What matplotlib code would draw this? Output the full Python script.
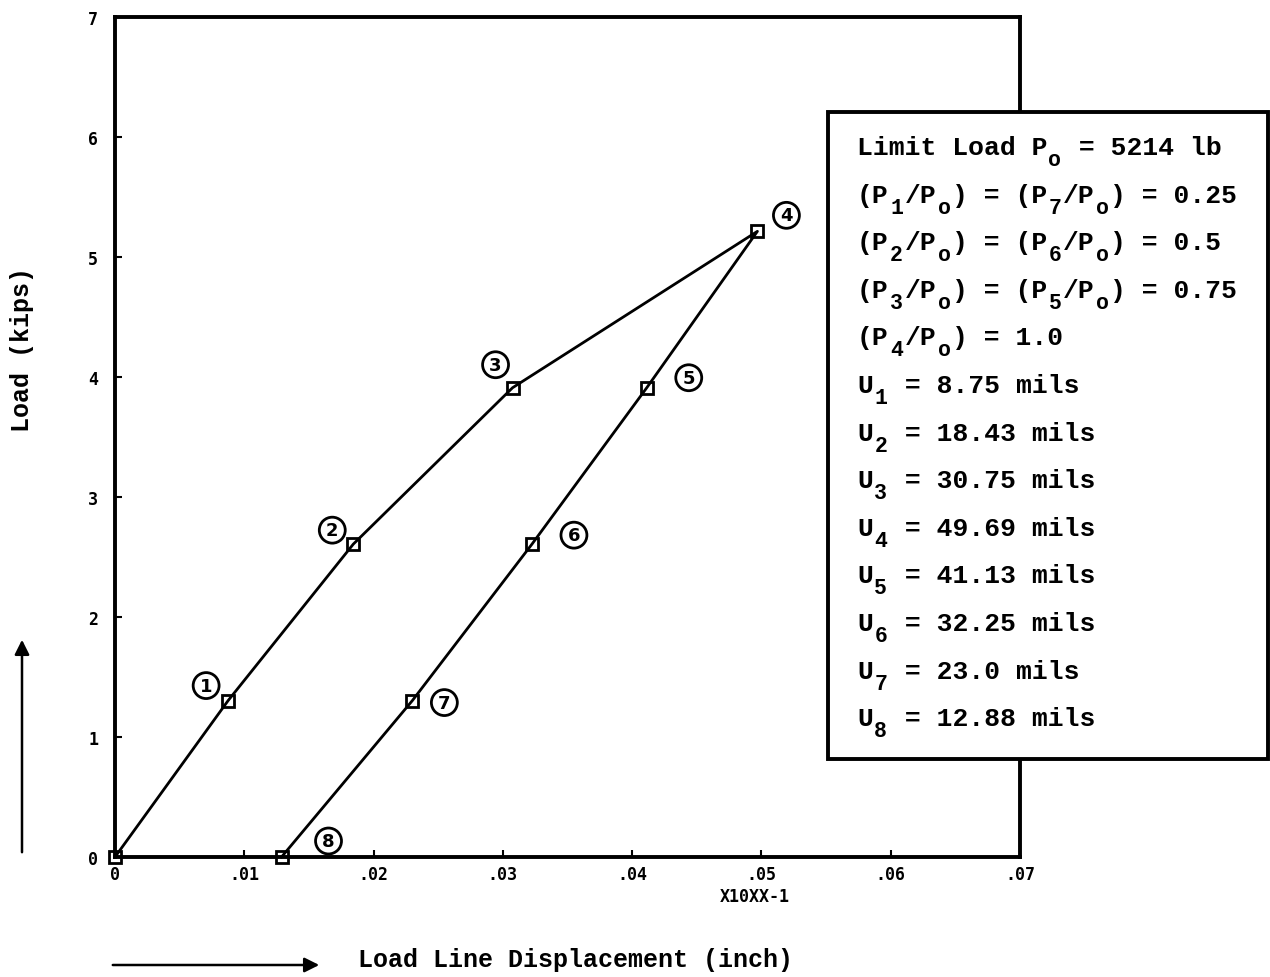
import numpy as np
import matplotlib.pyplot as plt
from matplotlib.patches import Rectangle, FancyArrowPatch

# limit load and load ratios for each step of the load/unload cycle
limit_load = 5214.0  # lb
load_ratio = [0.0, 0.25, 0.5, 0.75, 1.0, 0.75, 0.5, 0.25, 0.0]
# load line displacements in mils (U1..U8), origin first
disp_mils = [0.0, 8.75, 18.43, 30.75, 49.69, 41.13, 32.25, 23.0, 12.88]
point_ids = ['', '1', '2', '3', '4', '5', '6', '7', '8']
# where the circled step numbers sit relative to each point (pixels)
label_offsets = [(0, 0), (-22, 15), (-21, 14), (-17, 23), (29, 16),
                 (42, 10), (42, 9), (32, -2), (47, 16)]

x_ticks = [0, 0.01, 0.02, 0.03, 0.04, 0.05, 0.06, 0.07]
x_ticklabels = ['0', '.01', '.02', '.03', '.04', '.05', '.06', '.07']
y_ticks = [0, 1, 2, 3, 4, 5, 6, 7]

# "_x" marks a subscript character
box_lines = [
    'Limit Load P_o = 5214 lb',
    '(P_1/P_o) = (P_7/P_o) = 0.25',
    '(P_2/P_o) = (P_6/P_o) = 0.5',
    '(P_3/P_o) = (P_5/P_o) = 0.75',
    '(P_4/P_o) = 1.0',
    'U_1 = 8.75 mils',
    'U_2 = 18.43 mils',
    'U_3 = 30.75 mils',
    'U_4 = 49.69 mils',
    'U_5 = 41.13 mils',
    'U_6 = 32.25 mils',
    'U_7 = 23.0 mils',
    'U_8 = 12.88 mils',
]

W, H = 1270, 978
MONO = 'Liberation Mono'
fig = plt.figure(figsize=(W / 100, H / 100), dpi=100)
ax = fig.add_axes([115 / W, 1 - 858 / H, (1020 - 115) / W, (858 - 18) / H])

x = np.array(disp_mils) / 1000.0
y = np.array(load_ratio) * limit_load / 1000.0

ax.plot(x, y, color='black', lw=2.0, marker='s', ms=9, mfc='none',
        mec='black', mew=2.0, clip_on=False, zorder=3)

for xi, yi, pid, (dx, dy) in zip(x, y, point_ids, label_offsets):
    if not pid:
        continue
    ax.annotate(pid, (xi, yi), xytext=(dx * 0.72, dy * 0.72),
                textcoords='offset points', ha='center', va='center',
                fontsize=13, fontfamily='DejaVu Sans', fontweight='bold',
                bbox=dict(boxstyle='circle,pad=0.22', fc='white',
                          ec='black', lw=2.0))

ax.set_xlim(0, 0.07)
ax.set_ylim(0, 7)
ax.set_xticks(x_ticks)
ax.set_xticklabels(x_ticklabels)
ax.set_yticks(y_ticks)
ax.set_yticklabels([str(v) for v in y_ticks])
ax.tick_params(direction='in', length=5, width=1.5)
for lab in ax.get_xticklabels() + ax.get_yticklabels():
    lab.set_fontfamily('DejaVu Sans Mono')
    lab.set_fontweight('bold')
    lab.set_fontsize(12)
ax.tick_params(axis='x', pad=6)
ax.tick_params(axis='y', pad=12)
for side in ['left', 'bottom', 'top', 'right']:
    ax.spines[side].set_linewidth(2.8)

fig.text(755 / W, 1 - 897 / H, 'X10XX-1', ha='center', va='center',
         fontsize=12, fontweight='bold', fontfamily='DejaVu Sans Mono')

# axis titles with their direction arrows
fig.text(575 / W, 1 - 960 / H, 'Load Line Displacement (inch)', ha='center',
         va='center', fontsize=18, fontfamily=MONO, fontweight='bold')
fig.text(22 / W, 1 - 350 / H, 'Load (kips)', ha='center', va='center',
         rotation=90, fontsize=18, fontfamily=MONO, fontweight='bold')
fig.patches.append(FancyArrowPatch((110 / W, 1 - 966 / H), (322 / W, 1 - 966 / H),
                                   transform=fig.transFigure, arrowstyle='-|>',
                                   mutation_scale=22, lw=1.8, color='black'))
fig.patches.append(FancyArrowPatch((22 / W, 1 - 856 / H), (22 / W, 1 - 638 / H),
                                   transform=fig.transFigure, arrowstyle='-|>',
                                   mutation_scale=22, lw=1.8, color='black'))

# parameter box drawn over the right edge of the plot
fig.patches.append(Rectangle((828 / W, 1 - 760 / H), (1268 - 828) / W,
                             (760 - 113) / H, transform=fig.transFigure,
                             fc='white', ec='black', lw=2.8, zorder=5))

fs = 19
cw = 0.6 * fs * 100 / 72  # monospace cell width in pixels
x0 = 857
for i, line in enumerate(box_lines):
    base = 155 + i * 47.6
    # split into runs of normal text and single subscript characters
    pieces = []
    col, run, run_col = 0, '', 0
    k = 0
    while k < len(line):
        if line[k] == '_':
            if run:
                pieces.append((run_col, run, False))
            pieces.append((col, line[k + 1], True))
            col += 1
            run, run_col = '', col
            k += 2
        else:
            if not run:
                run_col = col
            run += line[k]
            col += 1
            k += 1
    if run:
        pieces.append((run_col, run, False))
    for c, txt, is_sub in pieces:
        if is_sub:
            fig.text((x0 + (c + 0.5) * cw) / W, 1 - (base + 11) / H, txt,
                     ha='center', va='baseline', fontsize=15.5,
                     fontfamily=MONO, fontweight='bold', zorder=6)
        else:
            fig.text((x0 + c * cw) / W, 1 - base / H, txt, ha='left',
                     va='baseline', fontsize=fs, fontfamily=MONO,
                     fontweight='bold', zorder=6)

fig.savefig('out.png', dpi=100)
